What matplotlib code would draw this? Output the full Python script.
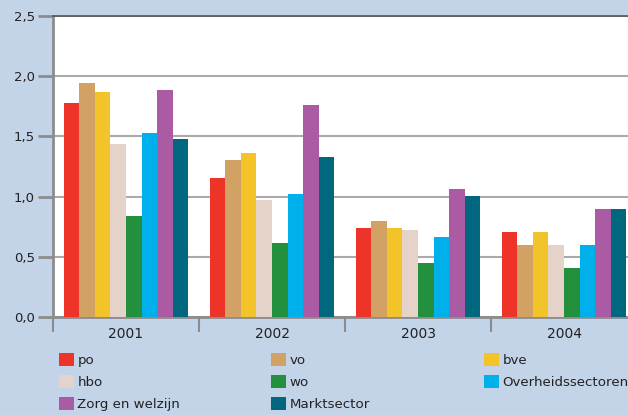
import matplotlib.pyplot as plt
from matplotlib import font_manager
import numpy as np

years = ['2001', '2002', '2003', '2004']
sectors = ['po', 'vo', 'bve', 'hbo', 'wo', 'Overheidssectoren', 'Zorg en welzijn', 'Marktsector']
colors = ['#EE3429', '#D1A264', '#F2C42A', '#E5D2C9', '#22903D', '#00B0EA', '#AB5AA4', '#00677F']

po = [1.78, 1.155, 0.74, 0.705]
vo = [1.94, 1.30, 0.80, 0.60]
bve = [1.87, 1.36, 0.74, 0.705]
hbo = [1.44, 0.97, 0.72, 0.60]
wo = [0.84, 0.615, 0.45, 0.41]
overheid = [1.53, 1.02, 0.665, 0.60]
zorg = [1.885, 1.76, 1.06, 0.90]
markt = [1.48, 1.33, 1.005, 0.90]
values = [po, vo, bve, hbo, wo, overheid, zorg, markt]

# condensed font for the legend if there is one
names = set(f.name for f in font_manager.fontManager.ttflist)
if 'Liberation Sans Narrow' in names:
    leg_font = {'family': 'Liberation Sans Narrow', 'size': 12}
else:
    leg_font = {'family': 'DejaVu Sans', 'size': 9.6}

bg = '#C3D3E8'
fig = plt.figure(figsize=(6.28, 4.15), dpi=100, facecolor=bg)
ax = fig.add_axes([53/628, 1 - 317/415, 584/628, 301/415])
ax.set_facecolor('white')

pad = 0.075
w = (1 - 2 * pad) / 8
x = np.arange(len(years))
handles = []
for i, (vals, c) in enumerate(zip(values, colors)):
    b = ax.bar(x + pad + (i + 0.5) * w, vals, width=w, color=c, zorder=3)
    handles.append(b)

ax.set_xlim(0, 4)
ax.set_ylim(0, 2.5)
ax.set_yticks([0, 0.5, 1.0, 1.5, 2.0, 2.5])
ax.set_yticklabels(['0,0', '0,5', '1,0', '1,5', '2,0', '2,5'], fontsize=9.5, color='#222222')
ax.yaxis.grid(True, color='#AAAAAA', linewidth=1.5, zorder=1)
ax.tick_params(axis='y', length=11, width=2, color='#8C8C8C', pad=2)

ax.set_xticks([0, 1, 2, 3, 4])
ax.set_xticklabels([])
ax.tick_params(axis='x', which='major', length=11, width=1.5, color='#8C8C8C')
ax.set_xticks(x + 0.5, minor=True)
ax.set_xticklabels(years, minor=True, fontsize=10, color='#222222')
ax.tick_params(axis='x', which='minor', length=0, pad=7)

for s in ['left', 'bottom']:
    ax.spines[s].set_color('#8C8C8C')
    ax.spines[s].set_linewidth(2)
ax.spines['top'].set_color('#555555')
ax.spines['top'].set_linewidth(1.2)
ax.spines['right'].set_visible(False)

# legend in three columns
columns = [[0, 3, 6], [1, 4, 7], [2, 5]]
col_x = [59, 271, 484]
for idx, cx in zip(columns, col_x):
    fig.legend([handles[k] for k in idx], [sectors[k] for k in idx],
               loc='upper left', bbox_to_anchor=(cx/628, 1 - 353/415),
               frameon=False, prop=leg_font, handlelength=1.13, handleheight=1.13,
               handletextpad=0.25, labelspacing=0.6, labelcolor='#222222',
               borderaxespad=0, borderpad=0)

fig.savefig('out.png', dpi=100, facecolor=bg)
